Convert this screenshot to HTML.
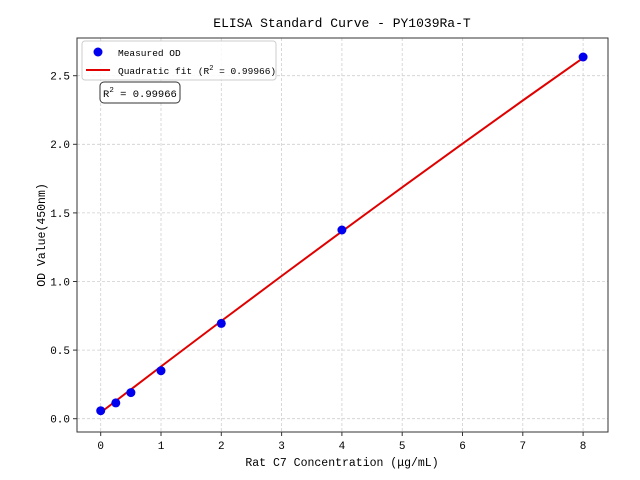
<!DOCTYPE html>
<html><head><meta charset="utf-8"><style>
html,body{margin:0;padding:0;background:#fff}
svg{display:block}
text{font-family:"Liberation Mono","WenQuanYi Zen Hei",monospace;fill:#000}
</style></head><body>
<svg width="640" height="480" viewBox="0 0 640 480" xmlns="http://www.w3.org/2000/svg">
<rect width="640" height="480" fill="#fff"/>
<g stroke="#cfcfcf" stroke-width="0.8" stroke-dasharray="3,2">
<line x1="100.7" y1="38" x2="100.7" y2="432"/>
<line x1="161" y1="38" x2="161" y2="432"/>
<line x1="221.3" y1="38" x2="221.3" y2="432"/>
<line x1="281.6" y1="38" x2="281.6" y2="432"/>
<line x1="341.9" y1="38" x2="341.9" y2="432"/>
<line x1="402.2" y1="38" x2="402.2" y2="432"/>
<line x1="462.5" y1="38" x2="462.5" y2="432"/>
<line x1="522.8" y1="38" x2="522.8" y2="432"/>
<line x1="583.1" y1="38" x2="583.1" y2="432"/>
<line x1="77" y1="418.7" x2="608" y2="418.7"/>
<line x1="77" y1="350.1" x2="608" y2="350.1"/>
<line x1="77" y1="281.5" x2="608" y2="281.5"/>
<line x1="77" y1="212.9" x2="608" y2="212.9"/>
<line x1="77" y1="144.3" x2="608" y2="144.3"/>
<line x1="77" y1="75.7" x2="608" y2="75.7"/>
</g>
<polyline fill="none" stroke="#e00000" stroke-width="2" points="100.7,412.5 161,366.5 221.3,321 281.6,276 341.9,231.4 402.2,187.3 462.5,143.7 522.8,100.5 583.1,57.9"/>
<g fill="#0000ee">
<circle cx="100.7" cy="410.7" r="4.5"/>
<circle cx="115.8" cy="402.9" r="4.5"/>
<circle cx="130.9" cy="392.6" r="4.5"/>
<circle cx="161" cy="370.7" r="4.5"/>
<circle cx="221.3" cy="323.4" r="4.5"/>
<circle cx="341.9" cy="230" r="4.5"/>
<circle cx="583.1" cy="57" r="4.5"/>
</g>
<rect x="77" y="38" width="531" height="394" fill="none" stroke="#333" stroke-width="1"/>
<g stroke="#333" stroke-width="1">
<line x1="100.7" y1="432" x2="100.7" y2="436"/><line x1="161" y1="432" x2="161" y2="436"/><line x1="221.3" y1="432" x2="221.3" y2="436"/><line x1="281.6" y1="432" x2="281.6" y2="436"/><line x1="341.9" y1="432" x2="341.9" y2="436"/><line x1="402.2" y1="432" x2="402.2" y2="436"/><line x1="462.5" y1="432" x2="462.5" y2="436"/><line x1="522.8" y1="432" x2="522.8" y2="436"/><line x1="583.1" y1="432" x2="583.1" y2="436"/>
<line x1="73" y1="418.7" x2="77" y2="418.7"/><line x1="73" y1="350.1" x2="77" y2="350.1"/><line x1="73" y1="281.5" x2="77" y2="281.5"/><line x1="73" y1="212.9" x2="77" y2="212.9"/><line x1="73" y1="144.3" x2="77" y2="144.3"/><line x1="73" y1="75.7" x2="77" y2="75.7"/>
</g>
<g font-size="11" text-anchor="middle">
<text x="100.7" y="449">0</text><text x="161" y="449">1</text><text x="221.3" y="449">2</text><text x="281.6" y="449">3</text><text x="341.9" y="449">4</text><text x="402.2" y="449">5</text><text x="462.5" y="449">6</text><text x="522.8" y="449">7</text><text x="583.1" y="449">8</text>
</g>
<g font-size="11" text-anchor="end">
<text x="70" y="422.5">0.0</text><text x="70" y="354">0.5</text><text x="70" y="285.4">1.0</text><text x="70" y="216.8">1.5</text><text x="70" y="148.2">2.0</text><text x="70" y="79.6">2.5</text>
</g>
<text x="342" y="466" font-size="11.5" text-anchor="middle">Rat C7 Concentration (μg/mL)</text>
<text transform="translate(45,235) rotate(-90)" font-size="11.5" text-anchor="middle">OD Value(450nm)</text>
<text x="342" y="27" font-size="13" text-anchor="middle">ELISA Standard Curve - PY1039Ra-T</text>
<rect x="82" y="41" width="194" height="39" rx="3" fill="#fff" fill-opacity="0.85" stroke="#ccc"/>
<circle cx="98" cy="52" r="4.5" fill="#0000ee"/>
<line x1="86" y1="70" x2="110" y2="70" stroke="#e00000" stroke-width="2"/>
<text x="118" y="56" font-size="9.5">Measured OD</text>
<text x="118" y="74" font-size="9.5">Quadratic fit (R<tspan dy="-4" font-size="7">2</tspan><tspan dy="4"> = 0.99966)</tspan></text>
<rect x="100" y="82" width="80" height="21" rx="4" fill="#fff" stroke="#333"/>
<text x="103" y="97" font-size="10.5">R<tspan dy="-5" font-size="7.5">2</tspan><tspan dy="5"> = 0.99966</tspan></text>
</svg>
</body></html>
